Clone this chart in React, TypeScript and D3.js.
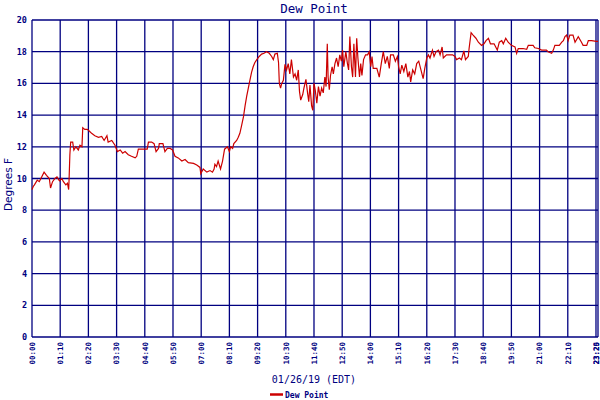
import React from 'react';
import * as d3 from 'd3';

// minutes after midnight, 01/26/19
const minutes = [
  0, 3, 6, 13, 18, 24, 30, 36, 43, 46, 51, 57, 62, 68, 74, 78, 84, 88, 91, 92,
  94, 96, 101, 104, 109, 115, 119, 124, 126, 131, 137, 142, 148, 156, 165, 173, 179, 186, 189, 198,
  206, 212, 219, 225, 231, 239, 247, 256, 260, 264, 276, 286, 289, 297, 303, 308, 314, 316, 325, 330,
  336, 343, 349, 355, 363, 372, 380, 388, 401, 409, 417, 419, 425, 434, 442, 448, 452, 454, 458, 462,
  468, 473, 478, 485, 490, 493, 498, 501, 508, 512, 516, 520, 525, 529, 533, 537, 541, 545, 549, 553,
  558, 564, 570, 576, 582, 589, 595, 599, 603, 609, 612, 614, 617, 620, 624, 628, 632, 636, 640, 644,
  649, 653, 657, 661, 664, 667, 672, 675, 680, 684, 687, 690, 694, 697, 700, 703, 707, 711, 715, 719,
  723, 727, 730, 733, 735, 738, 741, 745, 748, 752, 756, 760, 764, 768, 771, 774, 779, 783, 786, 789,
  793, 796, 799, 803, 806, 809, 813, 816, 819, 823, 828, 833, 837, 841, 844, 847, 856, 862, 867, 872,
  877, 882, 887, 890, 897, 902, 907, 910, 914, 918, 923, 928, 933, 937, 940, 945, 950, 955, 960, 971,
  975, 980, 984, 988, 994, 998, 1003, 1009, 1013, 1018, 1021, 1029, 1037, 1044, 1050, 1054, 1061, 1066, 1072, 1076,
  1083, 1085, 1090, 1095, 1102, 1108, 1116, 1122, 1127, 1133, 1138, 1147, 1155, 1160, 1166, 1170, 1176, 1182, 1190, 1199,
  1203, 1207, 1219, 1228, 1232, 1244, 1248, 1257, 1265, 1277, 1281, 1290, 1294, 1298, 1309, 1315, 1319, 1323, 1327, 1331,
  1335, 1343, 1348, 1356, 1364, 1368, 1377, 1381, 1389, 1401, 1405,
];

const dewPoint = [
  9.3, 9.5, 9.6, 9.9, 9.8, 10.1, 10.4, 10.2, 10.0, 9.4, 9.8, 10.0, 10.1, 9.85, 10.0, 9.8, 9.6, 9.7, 9.3, 9.9,
  11.5, 12.3, 12.3, 11.8, 12.0, 11.8, 12.1, 12.0, 13.2, 13.1, 13.1, 13.0, 12.85, 12.7, 12.6, 12.65, 12.4, 12.7, 12.3, 12.4,
  12.1, 11.7, 11.8, 11.6, 11.7, 11.5, 11.4, 11.3, 11.4, 11.85, 11.85, 11.85, 12.3, 12.3, 12.2, 11.7, 11.9, 12.2, 12.2, 11.7,
  11.9, 11.9, 11.8, 11.4, 11.3, 11.1, 11.2, 11.0, 10.95, 10.85, 10.7, 10.3, 10.6, 10.4, 10.5, 10.4, 10.6, 10.9, 10.75, 11.1,
  10.6, 11.1, 11.85, 12.0, 11.7, 12.0, 11.9, 12.2, 12.4, 12.6, 12.85, 13.3, 13.9, 14.6, 15.2, 15.7, 16.2, 16.7, 17.05, 17.3,
  17.5, 17.7, 17.85, 17.9, 18.0, 17.9, 17.7, 17.5, 17.85, 17.9, 17.3, 16.0, 15.7, 16.0, 16.2, 17.2, 16.85, 17.25, 16.6, 17.5,
  16.4, 16.6, 16.2, 16.85, 15.5, 14.95, 15.3, 15.7, 16.25, 15.4, 14.85, 15.9, 14.6, 14.3, 16.0, 15.6, 14.75, 15.8, 15.2, 15.7,
  15.4, 16.4, 15.8, 18.5, 16.4, 15.6, 16.5, 17.05, 16.6, 17.25, 17.6, 17.05, 17.8, 17.4, 18.1, 17.05, 18.0, 17.25, 16.85, 18.95,
  17.05, 16.4, 18.5, 16.4, 18.85, 17.6, 16.4, 17.25, 16.5, 17.5, 17.8, 17.8, 18.0, 17.05, 17.7, 16.95, 16.95, 16.4, 17.25, 18.0,
  17.25, 17.7, 16.95, 17.8, 17.8, 17.4, 17.7, 17.05, 16.6, 17.15, 16.75, 17.25, 16.4, 16.75, 16.1, 16.85, 16.6, 17.25, 17.4, 16.3,
  16.95, 17.6, 17.8, 17.6, 18.1, 17.7, 18.0, 18.1, 17.8, 18.3, 17.6, 17.8, 17.8, 17.8, 17.7, 17.5, 17.6, 17.5, 18.05, 17.5,
  17.7, 18.2, 19.2, 19.05, 18.85, 18.6, 18.4, 18.5, 18.7, 18.85, 18.5, 18.5, 18.1, 18.6, 18.7, 18.5, 18.85, 18.6, 18.4, 18.3,
  17.9, 18.2, 18.2, 18.15, 18.4, 18.4, 18.25, 18.2, 18.1, 18.1, 18.0, 17.9, 18.1, 18.4, 18.4, 18.6, 18.7, 18.95, 19.05, 18.7,
  19.05, 19.05, 18.6, 18.95, 18.6, 18.4, 18.4, 18.7, 18.7, 18.65, 18.65,
];

const tickMinutes = [0, 70, 140, 210, 280, 350, 420, 490, 560, 630, 700, 770, 840, 910, 980, 1050, 1120, 1190, 1260, 1330, 1400, 1405];
const tickLabels = [
  '00:00', '01:10', '02:20', '03:30', '04:40', '05:50', '07:00', '08:10', '09:20', '10:30', '11:40',
  '12:50', '14:00', '15:10', '16:20', '17:30', '18:40', '19:50', '21:00', '22:10', '23:20', '23:25',
];
const yTicks = [0, 2, 4, 6, 8, 10, 12, 14, 16, 18, 20];

const NAVY = '#000080';
const RED = '#cc0000';
const MONO = '"DejaVu Sans Mono", monospace';

export default function App() {
  const width = 600;
  const height = 400;
  const margin = { top: 20, right: 2, bottom: 63, left: 32 };

  const x = d3.scaleLinear().domain([0, 1405]).range([margin.left, width - margin.right]);
  const y = d3.scaleLinear().domain([0, 20]).range([height - margin.bottom, margin.top]);

  const points = minutes.map((m, i) => [m, dewPoint[i]] as [number, number]);
  const line = d3.line<[number, number]>()
    .x(d => x(d[0]))
    .y(d => y(d[1]))
    .curve(d3.curveLinear);

  const plotBottom = y(0);
  const plotTop = y(20);

  return (
    <svg
      width={width}
      height={height}
      style={{ position: 'fixed', top: 0, left: 0, background: '#fff', display: 'block' }}
    >
      <rect x={0} y={0} width={width} height={height} fill="#fff" />
      <text x={314} y={13} textAnchor="middle" fill={NAVY} fontFamily={MONO} fontSize={12.5}>
        Dew Point
      </text>

      {/* grid */}
      <g stroke={NAVY} strokeWidth={1.3}>
        {yTicks.map(t => (
          <line key={'h' + t} x1={x(0)} x2={x(1405)} y1={y(t)} y2={y(t)} />
        ))}
        {tickMinutes.map(t => (
          <line key={'v' + t} x1={x(t)} x2={x(t)} y1={plotTop} y2={plotBottom} />
        ))}
      </g>

      {/* y tick labels */}
      <g fill={NAVY} fontFamily={MONO} fontSize={8.5} fontWeight="bold" textAnchor="end">
        {yTicks.map(t => (
          <text key={'yl' + t} x={27} y={y(t) + 3}>{t}</text>
        ))}
      </g>

      {/* x tick labels */}
      <g fill={NAVY} fontFamily={MONO} fontSize={7.5} fontWeight="bold" textAnchor="end">
        {tickMinutes.map((t, i) => (
          <text
            key={'xl' + t}
            transform={`translate(${Math.min(x(t) + 2.8, 599)},${plotBottom + 5}) rotate(-90)`}
          >
            {tickLabels[i]}
          </text>
        ))}
      </g>

      <text
        transform={`translate(12,${(plotTop + plotBottom) / 2 + 6}) rotate(-90)`}
        textAnchor="middle"
        fill={NAVY}
        fontFamily="DejaVu Sans, sans-serif"
        fontSize={10.5}
      >
        Degrees F
      </text>

      <text x={314} y={383} textAnchor="middle" fill={NAVY} fontFamily={MONO} fontSize={10}>
        01/26/19 (EDT)
      </text>

      <path d={line(points) || ''} fill="none" stroke={RED} strokeWidth={1.2} />

      {/* legend */}
      <line x1={270} x2={283} y1={394.5} y2={394.5} stroke={RED} strokeWidth={2.5} />
      <text x={285} y={398} fill={NAVY} fontFamily={MONO} fontSize={8} fontWeight="bold">
        Dew Point
      </text>
    </svg>
  );
}
